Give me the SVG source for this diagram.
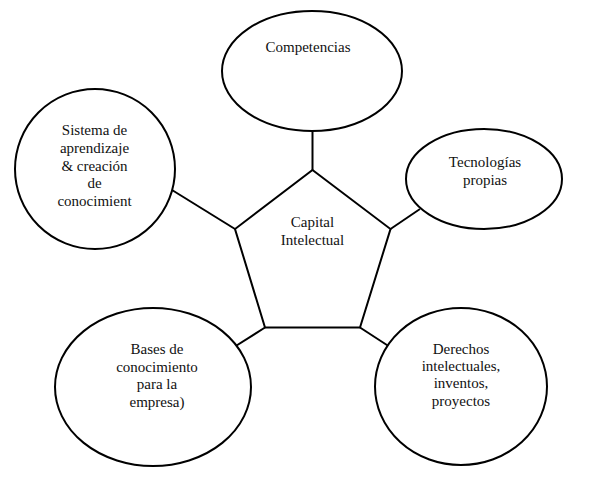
<svg xmlns="http://www.w3.org/2000/svg" width="603" height="490" viewBox="0 0 603 490">
<style>
.shape{fill:#fff;stroke:#000;stroke-width:2}
.conn{fill:none;stroke:#000;stroke-width:2}
.lbl{font-family:'Liberation Serif','Times New Roman','DejaVu Serif',serif;font-size:15px;fill:#111;text-anchor:middle}
</style>
<rect width="603" height="490" fill="#fff"/>
<g id="connectors">
<line class="conn" x1="312.5" y1="131" x2="312.5" y2="170"/>
<line class="conn" x1="172" y1="190" x2="235" y2="229"/>
<line class="conn" x1="390.5" y1="229" x2="420" y2="209"/>
<line class="conn" x1="265" y1="327.5" x2="235" y2="346.5"/>
<line class="conn" x1="360" y1="327.5" x2="391.5" y2="348"/>
</g>
<g id="capital">
<polygon class="shape" points="312.5,170 390.5,229 360,327.5 265,327.5 235,229"/>
<text class="lbl" font-family="Liberation Serif, serif" x="312.5" y="227">Capital</text>
<text class="lbl" font-family="Liberation Serif, serif" x="312.5" y="244.5">Intelectual</text>
</g>
<g id="competencias">
<ellipse class="shape" cx="312" cy="71" rx="90" ry="60"/>
<text class="lbl" font-family="Liberation Serif, serif" x="308" y="52">Competencias</text>
</g>
<g id="tecnologias">
<ellipse class="shape" cx="484" cy="179" rx="78" ry="50"/>
<text class="lbl" font-family="Liberation Serif, serif" x="485" y="167">Tecnologías</text>
<text class="lbl" font-family="Liberation Serif, serif" x="485" y="185">propias</text>
</g>
<g id="sistema">
<ellipse class="shape" cx="95" cy="169" rx="80" ry="80"/>
<text class="lbl" font-family="Liberation Serif, serif" x="94.5" y="135">Sistema de</text>
<text class="lbl" font-family="Liberation Serif, serif" x="94.5" y="153">aprendizaje</text>
<text class="lbl" font-family="Liberation Serif, serif" x="94.5" y="171">&amp; creación</text>
<text class="lbl" font-family="Liberation Serif, serif" x="94.5" y="188">de</text>
<text class="lbl" font-family="Liberation Serif, serif" x="94.5" y="206">conocimient</text>
</g>
<g id="bases">
<ellipse class="shape" cx="153" cy="387" rx="98" ry="79"/>
<text class="lbl" font-family="Liberation Serif, serif" x="157" y="354">Bases de</text>
<text class="lbl" font-family="Liberation Serif, serif" x="157" y="372">conocimiento</text>
<text class="lbl" font-family="Liberation Serif, serif" x="157" y="389">para la</text>
<text class="lbl" font-family="Liberation Serif, serif" x="157" y="407">empresa)</text>
</g>
<g id="derechos">
<ellipse class="shape" cx="461" cy="386.5" rx="86" ry="78.5"/>
<text class="lbl" font-family="Liberation Serif, serif" x="461" y="354">Derechos</text>
<text class="lbl" font-family="Liberation Serif, serif" x="461" y="371">intelectuales,</text>
<text class="lbl" font-family="Liberation Serif, serif" x="461" y="388">inventos,</text>
<text class="lbl" font-family="Liberation Serif, serif" x="461" y="406">proyectos</text>
</g>
</svg>
